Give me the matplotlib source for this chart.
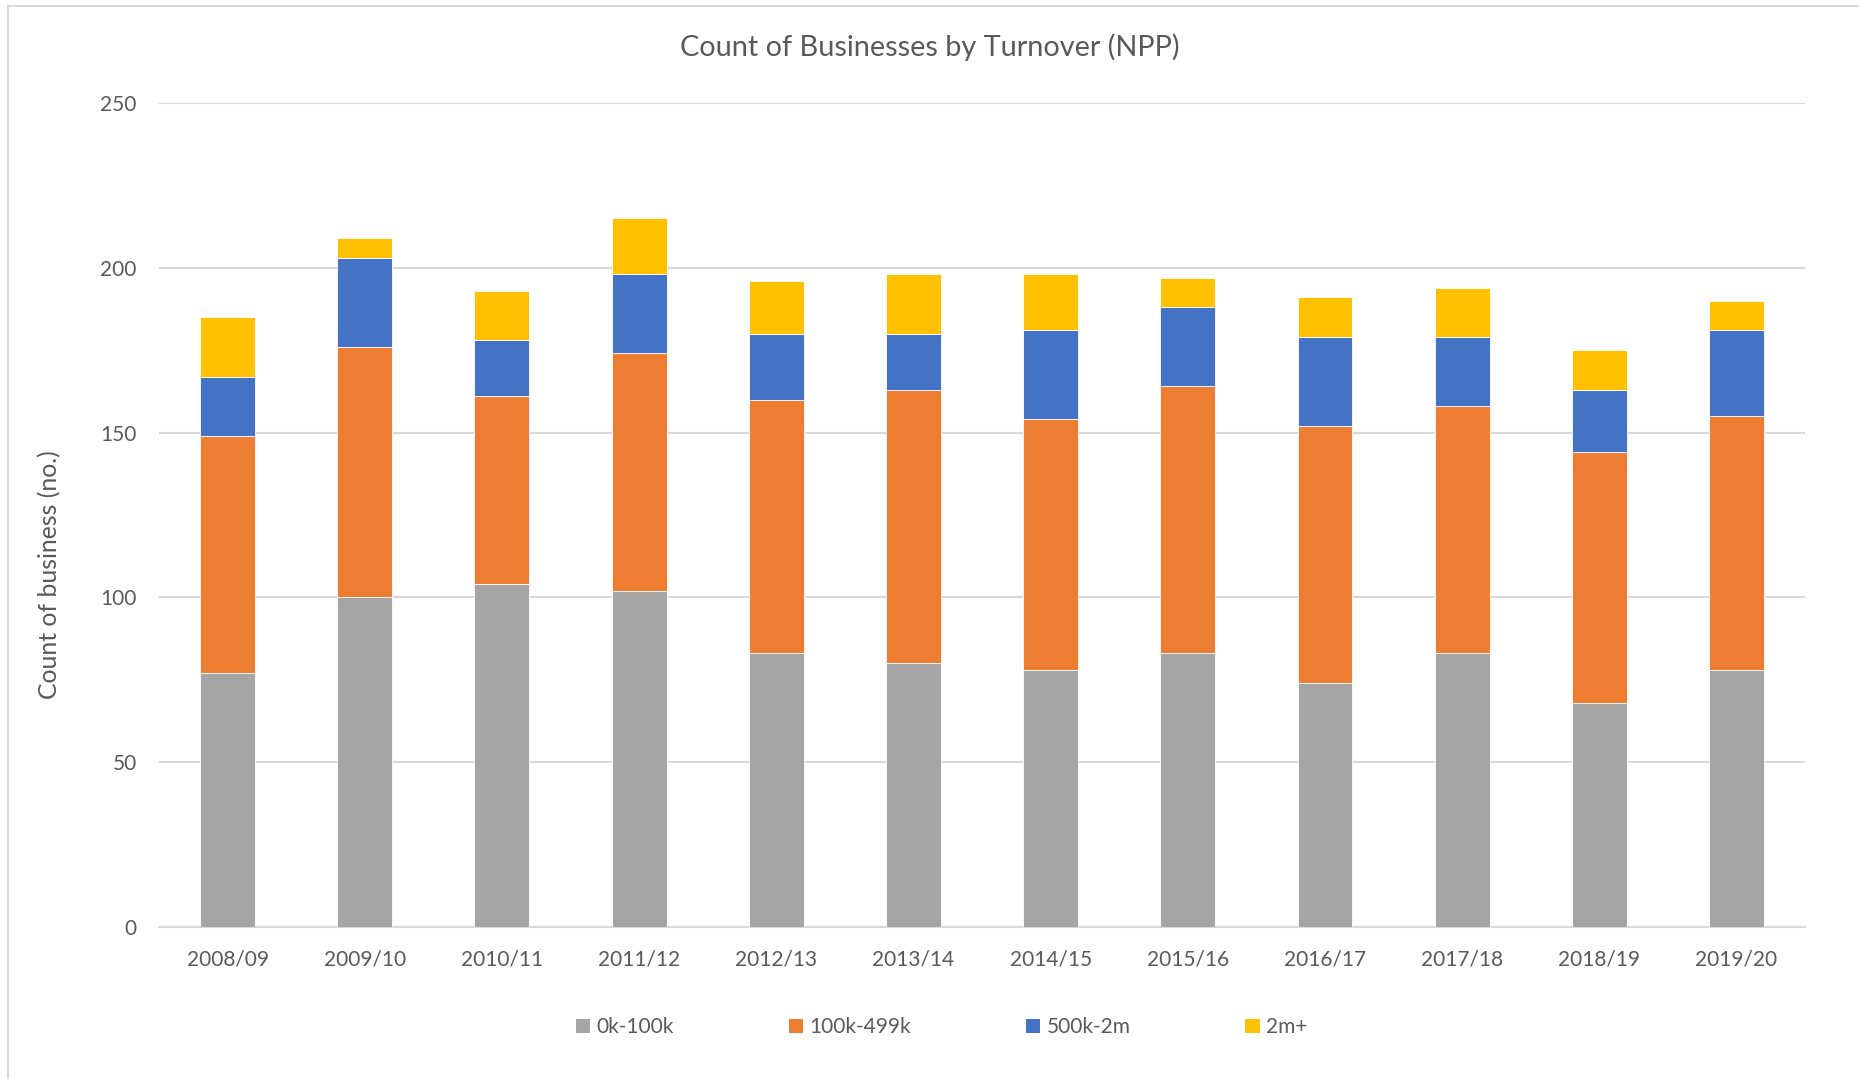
import matplotlib
matplotlib.use("Agg")
import matplotlib.pyplot as plt
from matplotlib.lines import Line2D
from matplotlib.patches import Patch
import numpy as np

years = ["2008/09", "2009/10", "2010/11", "2011/12", "2012/13", "2013/14",
         "2014/15", "2015/16", "2016/17", "2017/18", "2018/19", "2019/20"]
band_0_100k = [77, 100, 104, 102, 83, 80, 78, 83, 74, 83, 68, 78]
band_100_499k = [72, 76, 57, 72, 77, 83, 76, 81, 78, 75, 76, 77]
band_500k_2m = [18, 27, 17, 24, 20, 17, 27, 24, 27, 21, 19, 26]
band_2m_plus = [18, 6, 15, 17, 16, 18, 17, 9, 12, 15, 12, 9]

labels = ["0k-100k", "100k-499k", "500k-2m", "2m+"]
colors = ["#A5A5A5", "#ED7D31", "#4472C4", "#FFC000"]
text_col = "#595959"

plt.rcParams["font.family"] = ["Lato", "DejaVu Sans"]

fig = plt.figure(figsize=(18.59, 10.79), dpi=100)
ax = fig.add_axes([0.0855, 0.141, 0.8855, 0.7635])

x = np.arange(len(years))
bottom = np.zeros(len(years))
for vals, lab, col in zip([band_0_100k, band_100_499k, band_500k_2m, band_2m_plus], labels, colors):
    ax.bar(x, vals, width=0.4, bottom=bottom, color=col, label=lab,
           edgecolor="white", linewidth=0.6, zorder=3)
    bottom += np.array(vals)

ax.set_ylim(0, 250)
ax.set_xlim(-0.5, len(years) - 0.5)
ax.set_yticks(range(0, 251, 50))
ax.set_xticks(x)
ax.set_xticklabels(years)
ax.grid(axis="y", color="#D9D9D9", linewidth=1.5, zorder=0)
ax.tick_params(axis="both", length=0, labelsize=15, colors=text_col)
ax.tick_params(axis="x", pad=16)
ax.tick_params(axis="y", pad=16)
for s in ["top", "right", "left"]:
    ax.spines[s].set_visible(False)
ax.spines["bottom"].set_color("#D9D9D9")
ax.spines["bottom"].set_linewidth(1.5)

# y label sits a bit below the axes centre, as in the original
fig.text(50 / 1859, 0.467, "Count of business (no.)", rotation=90, ha="center", va="center",
         fontsize=17.8, color=text_col)
fig.text(0.5, 0.9564, "Count of Businesses by Turnover (NPP)", ha="center", va="center",
         fontsize=20.8, color=text_col)

handles = [Patch(facecolor=c, edgecolor="none") for c in colors]
fig.legend(handles, labels, loc="center", bbox_to_anchor=(0.5065, 0.048), ncol=4,
           frameon=False, fontsize=15, labelcolor=text_col, handlelength=0.7,
           handleheight=0.7, handletextpad=0.3, columnspacing=5.5)

# outer chart border
fig.add_artist(Line2D([8 / 1859, 1.0], [1 - 6 / 1079, 1 - 6 / 1079], color="#D9D9D9", linewidth=1.5))
fig.add_artist(Line2D([8 / 1859, 8 / 1859], [0.0, 1 - 6 / 1079], color="#D9D9D9", linewidth=1.5))

fig.savefig("out.png", dpi=100)
